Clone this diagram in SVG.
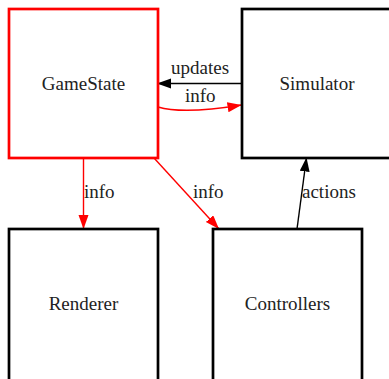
<svg xmlns="http://www.w3.org/2000/svg" width="389" height="379" viewBox="0 0 389 379">
  <style>
    .box { fill: #ffffff; stroke: #000000; stroke-width: 2.7; }
    .box.hot { stroke: #ff0000; }
    .name { font-size: 19px; fill: #222222; text-anchor: middle; }
    .edge { fill: none; stroke-width: 1.4; }
    .edge.black { stroke: #000000; marker-end: url(#headBlack); }
    .edge.red { stroke: #ff0000; marker-end: url(#headRed); }
    .lbl { font-size: 19px; fill: #222222; }
  </style>
  <defs>
    <marker id="headBlack" markerUnits="userSpaceOnUse" markerWidth="15" markerHeight="11" refX="14" refY="5" orient="auto">
      <path d="M0,0 L14,5 L0,10 z" fill="#000000"/>
    </marker>
    <marker id="headRed" markerUnits="userSpaceOnUse" markerWidth="15" markerHeight="11" refX="14" refY="5" orient="auto">
      <path d="M0,0 L14,5 L0,10 z" fill="#ff0000"/>
    </marker>
  </defs>
  <rect width="389" height="379" fill="#ffffff"/>

  <g id="edges" font-family="Liberation Serif, DejaVu Serif, serif">
    <path class="edge black" d="M242,83.5 L157,83.5"/>
    <text class="lbl" x="171" y="74">updates</text>
    <path class="edge red" d="M158,107 C175,112 205,111 241.5,105"/>
    <text class="lbl" x="185" y="102">info</text>
    <path class="edge red" d="M83.5,158 L83.5,229"/>
    <text class="lbl" x="84" y="198">info</text>
    <path class="edge red" d="M154,158 L219,229"/>
    <text class="lbl" x="193" y="198">info</text>
    <path class="edge black" d="M297,229 L306.5,157.5"/>
    <text class="lbl" x="302" y="198">actions</text>
  </g>

  <g id="GameState" font-family="Liberation Serif, DejaVu Serif, serif">
    <rect class="box hot" x="9" y="9" width="149" height="149"/>
    <text class="name" x="83.5" y="90">GameState</text>
  </g>
  <g id="Simulator" font-family="Liberation Serif, DejaVu Serif, serif">
    <rect class="box" x="242" y="9" width="150" height="149"/>
    <text class="name" x="317" y="90">Simulator</text>
  </g>
  <g id="Renderer" font-family="Liberation Serif, DejaVu Serif, serif">
    <rect class="box" x="9" y="229" width="149" height="152"/>
    <text class="name" x="83.5" y="310">Renderer</text>
  </g>
  <g id="Controllers" font-family="Liberation Serif, DejaVu Serif, serif">
    <rect class="box" x="213" y="229" width="149" height="152"/>
    <text class="name" x="287.5" y="310">Controllers</text>
  </g>
</svg>
